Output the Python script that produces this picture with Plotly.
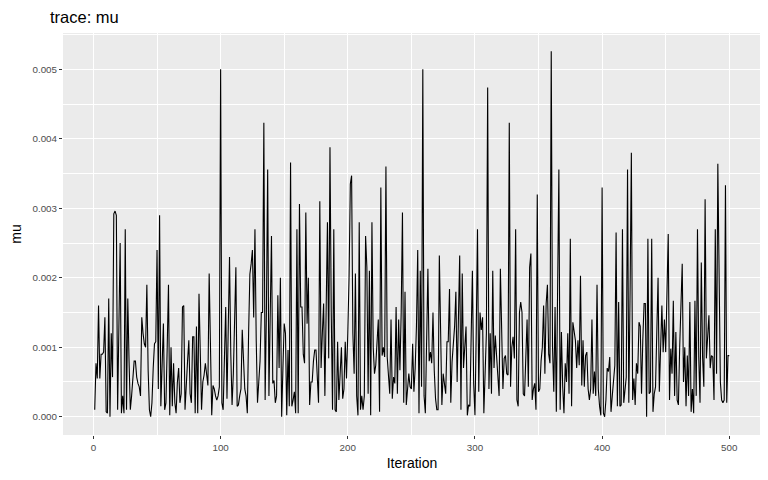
import plotly.graph_objects as go

iterations = list(range(1, 501))
mu = [
    0.0001, 0.00077, 0.00055, 0.0016, 0.00055, 0.0009, 0.0009, 0.00093, 0.00143, 0.00007,
    0.00005, 0.0017, 0.0, 0.0012, 0.00057, 0.00292, 0.00296, 0.0029, 0.0001, 0.0012,
    0.0025, 0.00005, 0.0003, 0.00005, 0.0027, 0.0001, 0.0017, 0.0008, 0.0001, 0.0003,
    0.0005, 0.0008, 0.0008, 0.00057, 0.00048, 0.00043, 0.0003, 0.00143, 0.0012, 0.00105,
    0.001, 0.0019, 0.00067, 0.0001, 0.0, 0.0002, 0.0007, 0.00105, 0.00108, 0.0024,
    0.0004, 0.0029, 0.00015, 0.0008, 0.00134, 0.0001, 0.0002, 0.001, 0.0019, 0.00002,
    0.001, 0.00015, 0.00077, 0.0002, 0.00005, 0.0005, 0.0007, 0.0002, 0.00033, 0.00158,
    0.0016, 0.0001, 0.00057, 0.0008, 0.0011, 0.00033, 0.0002, 0.00115, 0.00115, 0.00005,
    0.0013, 0.00005, 0.00177, 0.0008, 0.0001, 0.0005, 0.0006, 0.00077, 0.0006, 0.00045,
    0.00206, 0.0008, 0.00002, 0.00045, 0.0004, 0.0003, 0.00024, 0.0003, 0.00043, 0.005,
    0.0002, 0.0001, 0.0009, 0.00158, 0.00026, 0.0012, 0.0023, 0.0009, 0.00017, 0.00062,
    0.0015, 0.00215, 0.00015, 0.00017, 0.0003, 0.0004, 0.00125, 0.0007, 0.0004, 0.0003,
    0.00005, 0.0012, 0.00205, 0.0022, 0.0024, 0.00143, 0.0027, 0.0011, 0.0002, 0.0005,
    0.0008, 0.0015, 0.0015, 0.00423, 0.00024, 0.0015, 0.00356, 0.0003, 0.0013, 0.0026,
    0.00048, 0.00052, 0.0002, 0.0003, 0.00175, 0.0007, 0.002, 0.0, 0.0007, 0.00134,
    0.0012, 0.00002, 0.00096, 0.00015, 0.00366, 0.00015, 0.00024, 0.00036, 0.00005, 0.0027,
    0.00005, 0.00306, 0.00158, 0.00158, 0.0009, 0.00077, 0.00294, 0.00134, 0.002, 0.00017,
    0.0005, 0.0005, 0.0008, 0.00096, 0.00096, 0.0006, 0.0002, 0.0031, 0.0007, 0.0012,
    0.00163, 0.0003, 0.0014, 0.0028, 0.00084, 0.00388, 0.0015, 0.0001, 0.0027, 0.0001,
    0.00007, 0.00108, 0.00024, 0.0006, 0.001, 0.00026, 0.0004, 0.00108, 0.00055, 0.0012,
    0.002, 0.00335, 0.00347, 0.0012, 0.00062, 0.00206, 0.0003, 0.00002, 0.0028, 0.0001,
    0.0003, 0.0001, 0.0003, 0.0026, 0.00215, 0.00033, 0.0021, 0.00002, 0.0028, 0.001,
    0.00062, 0.00074, 0.001, 0.0014, 0.00007, 0.0033, 0.00088, 0.001, 0.00086, 0.0036,
    0.00086, 0.0006, 0.00033, 0.0014, 0.00026, 0.00057, 0.00048, 0.00158, 0.00033, 0.0014,
    0.00067, 0.0015, 0.00294, 0.0002, 0.0018, 0.00017, 0.0004, 0.00062, 0.00043, 0.0004,
    0.00105, 0.00036, 0.0007, 0.0013, 0.0024, 0.00005, 0.0021, 0.00043, 0.005, 0.0003,
    0.00005, 0.001, 0.00213, 0.0008, 0.00093, 0.00077, 0.0015, 0.00067, 0.00026, 0.0001,
    0.0001, 0.00232, 0.0011, 0.00017, 0.00062, 0.0005, 0.00033, 0.00108, 0.00108, 0.00184,
    0.0002, 0.00079, 0.001, 0.0013, 0.0018, 0.0005, 0.0014, 0.00232, 0.0001, 0.00206,
    0.0007, 0.001, 0.0013, 0.00002, 0.00017, 0.00015, 0.001, 0.0021, 0.00048, 0.00002,
    0.0012, 0.0027, 0.00036, 0.0015, 0.00125, 0.00143, 0.00005, 0.0006, 0.0012, 0.00474,
    0.0004, 0.0012, 0.00033, 0.0021, 0.0007, 0.00117, 0.00086, 0.0006, 0.0003, 0.00213,
    0.0012, 0.0004, 0.00084, 0.00088, 0.00062, 0.0006, 0.00423, 0.00043, 0.001, 0.00115,
    0.00084, 0.0027, 0.00024, 0.00015, 0.0015, 0.00165, 0.0015, 0.00033, 0.0003, 0.0009,
    0.0014, 0.00043, 0.00215, 0.00235, 0.00024, 0.0004, 0.00048, 0.0001, 0.0032, 0.00036,
    0.0004, 0.0008, 0.001, 0.0016, 0.00062, 0.00163, 0.0019, 0.0009, 0.00077, 0.00526,
    0.001, 0.00036, 0.00158, 0.00007, 0.0018, 0.00356, 0.0001, 0.00122, 0.00043, 0.00005,
    0.00077, 0.0005, 0.0012, 0.00033, 0.00256, 0.00015, 0.00136, 0.00122, 0.0011, 0.0007,
    0.0011, 0.00074, 0.00203, 0.00045, 0.0011, 0.00043, 0.00088, 0.00093, 0.0004, 0.00024,
    0.0004, 0.0014, 0.00033, 0.00065, 0.0003, 0.0019, 0.0004, 0.00015, 0.00002, 0.0033,
    0.00005, 0.0, 0.00024, 0.0007, 0.00065, 0.00086, 0.00007, 0.0003, 0.00048, 0.00074,
    0.00265, 0.00015, 0.00165, 0.00015, 0.00017, 0.0027, 0.0002, 0.0004, 0.00057, 0.00356,
    0.0002, 0.0018, 0.0038, 0.00024, 0.00055, 0.00017, 0.00077, 0.00062, 0.00136, 0.0013,
    0.00033, 0.0011, 0.00163, 0.00163, 0.0, 0.00256, 0.00033, 0.00036, 0.00256, 0.00007,
    0.00033, 0.00043, 0.0012, 0.002, 0.00036, 0.00117, 0.0016, 0.00093, 0.0014, 0.00093,
    0.0016, 0.00263, 0.00024, 0.00098, 0.00062, 0.00167, 0.0003, 0.00122, 0.00024, 0.00017,
    0.001, 0.0018, 0.0022, 0.0005, 0.001, 0.00015, 0.00088, 0.0003, 0.00165, 0.00007,
    0.0004, 0.00005, 0.00167, 0.0003, 0.0027, 0.00086, 0.0002, 0.00222, 0.00086, 0.00043,
    0.00313, 0.00084, 0.0011, 0.00146, 0.0007, 0.00088, 0.00086, 0.00024, 0.0027, 0.00062,
    0.00364, 0.00187, 0.0005, 0.00024, 0.0002, 0.00024, 0.00333, 0.0002, 0.00088, 0.00088,
]

x_ticks = [0, 100, 200, 300, 400, 500]
y_ticks = [0.0, 0.001, 0.002, 0.003, 0.004, 0.005]
y_tick_labels = ["0.000", "0.001", "0.002", "0.003", "0.004", "0.005"]

FONT = "Liberation Sans, Arial, sans-serif"
W, H = 760, 472  # page body adds an 8px offset

fig = go.Figure()
fig.add_trace(go.Scatter(
    x=iterations, y=mu, mode="lines",
    line=dict(color="black", width=1.1),
    hoverinfo="x+y", showlegend=False,
))

ymin, ymax = 0.0, max(mu)
ypad = (ymax - ymin) * 0.05
xpad = (500 - 1) * 0.05

fig.update_layout(
    width=W, height=H,
    margin=dict(l=55, r=7, t=25, b=45, autoexpand=False),
    paper_bgcolor="white",
    plot_bgcolor="#EBEBEB",
    font=dict(family=FONT, color="black"),
    title=dict(text="trace: mu", font=dict(size=16.5, color="black", family=FONT),
               xref="container", x=42 / W, xanchor="left",
               yref="container", y=1, yanchor="top", pad=dict(t=3, b=0, l=0, r=0)),
    xaxis=dict(
        range=[1 - xpad, 500 + xpad],
        tickvals=x_ticks, ticktext=[str(v) for v in x_ticks],
        showgrid=True, gridcolor="white", gridwidth=1.1,
        minor=dict(dtick=50, tick0=0, showgrid=True, gridcolor="white", gridwidth=0.5, ticks=""),
        zeroline=False, showline=False,
        ticks="outside", ticklen=3, tickcolor="#333333", tickwidth=1,
        tickfont=dict(size=9.8, color="#4D4D4D", family=FONT),
        title=dict(text="Iteration", font=dict(size=14, color="black", family=FONT), standoff=6),
        automargin=False,
    ),
    yaxis=dict(
        range=[ymin - ypad, ymax + ypad],
        tickvals=y_ticks, ticktext=y_tick_labels,
        showgrid=True, gridcolor="white", gridwidth=1.1,
        minor=dict(dtick=0.0005, tick0=0, showgrid=True, gridcolor="white", gridwidth=0.5, ticks=""),
        zeroline=False, showline=False,
        ticks="outside", ticklen=3, tickcolor="#333333", tickwidth=1,
        tickfont=dict(size=9.8, color="#4D4D4D", family=FONT),
        title=dict(text="mu", font=dict(size=14, color="black", family=FONT), standoff=13),
        automargin=False,
    ),
)

fig.write_html("out.html")
